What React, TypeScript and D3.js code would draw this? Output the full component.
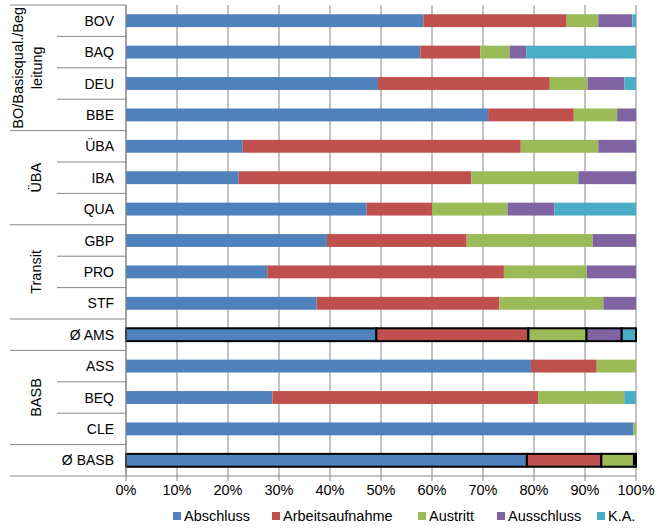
import React from "react";
import * as d3 from "d3";

const categories = ["BOV", "BAQ", "DEU", "BBE", "ÜBA", "IBA", "QUA", "GBP", "PRO", "STF", "Ø AMS", "ASS", "BEQ", "CLE", "Ø BASB"];
const seriesNames = ["Abschluss", "Arbeitsaufnahme", "Austritt", "Ausschluss", "K.A."];
const colors = ["#4F81BD", "#C0504D", "#9BBB59", "#8064A2", "#4BACC6"];

const abschluss = [58.3, 57.7, 49.4, 71.0, 22.9, 22.1, 47.2, 39.4, 27.7, 37.4, 49.1, 79.4, 28.7, 99.5, 78.6];
const arbeitsaufnahme = [28.1, 11.8, 33.7, 16.8, 54.5, 45.6, 12.8, 27.4, 46.4, 35.8, 29.8, 12.9, 52.1, 0, 14.6];
const austritt = [6.2, 5.7, 7.4, 8.5, 15.2, 21.0, 14.8, 24.7, 16.2, 20.4, 11.4, 7.7, 16.9, 0.5, 6.4];
const ausschluss = [6.7, 3.3, 7.2, 3.7, 7.4, 11.3, 9.2, 8.5, 9.7, 6.4, 6.9, 0, 0, 0, 0];
const ka = [0.7, 21.5, 2.3, 0, 0, 0, 16.0, 0, 0, 0, 2.8, 0, 2.3, 0, 0.4];

const averageRows = ["Ø AMS", "Ø BASB"];
const groupLabels = [
  { lines: ["BO/Basisqual./Beg", "leitung"], from: 0, to: 3 },
  { lines: ["ÜBA"], from: 4, to: 6 },
  { lines: ["Transit"], from: 7, to: 9 },
  { lines: [], from: 10, to: 10 },
  { lines: ["BASB"], from: 11, to: 13 },
  { lines: [], from: 14, to: 14 },
];
const xTicks = [0, 10, 20, 30, 40, 50, 60, 70, 80, 90, 100];

export default function App() {
  const W = 656, H = 529;
  const left = 126, right = 636, top = 5, bottom = 476;
  const font = "Liberation Sans, Arial, sans-serif";
  const grid = "#868686";

  const x = d3.scaleLinear().domain([0, 100]).range([left, right]);
  const y = d3.scaleBand<string>().domain(categories).range([top, bottom]).paddingInner(0.59).paddingOuter(0.295);
  const step = y.step();

  const table = categories.map((c, i) => ({
    cat: c,
    [seriesNames[0]]: abschluss[i],
    [seriesNames[1]]: arbeitsaufnahme[i],
    [seriesNames[2]]: austritt[i],
    [seriesNames[3]]: ausschluss[i],
    [seriesNames[4]]: ka[i],
  }));
  const stacked = d3.stack<any>().keys(seriesNames)(table);

  const boundary = (i: number) => top + i * step;
  const groupBoundaries = new Set<number>();
  groupLabels.forEach((g) => { groupBoundaries.add(g.from); groupBoundaries.add(g.to + 1); });

  const legendItems = [
    { x: 173, text: seriesNames[0] },
    { x: 272, text: seriesNames[1] },
    { x: 418, text: seriesNames[2] },
    { x: 497, text: seriesNames[3] },
    { x: 597, text: seriesNames[4] },
  ];

  return (
    <svg width={W} height={H} style={{ position: "absolute", left: 0, top: 0, background: "#fff" }} fontFamily={font}>
      <rect width={W} height={H} fill="#fff" />
      {xTicks.map((t) => (
        <line key={"g" + t} x1={x(t)} x2={x(t)} y1={top} y2={bottom} stroke={grid} strokeWidth={1} />
      ))}
      {stacked.map((s, si) =>
        s.map((d, i) => {
          const w = x(d[1]) - x(d[0]);
          if (w <= 0) return null;
          const avg = averageRows.includes(categories[i]);
          return (
            <rect
              key={si + "-" + i}
              x={x(d[0])}
              y={y(categories[i])}
              width={w}
              height={y.bandwidth()}
              fill={colors[si]}
              stroke={avg ? "#000" : "none"}
              strokeWidth={avg ? 2 : 0}
            />
          );
        })
      )}
      <line x1={left} x2={left} y1={top} y2={bottom} stroke={grid} strokeWidth={1} />
      {d3.range(categories.length + 1).map((i) => {
        const yy = boundary(i);
        const isGroup = groupBoundaries.has(i);
        return (
          <line key={"d" + i} x1={isGroup ? 10 : 57} x2={left} y1={yy} y2={yy} stroke={grid} strokeWidth={1} />
        );
      })}
      <line x1={left} x2={right} y1={bottom} y2={bottom} stroke={grid} strokeWidth={1} />
      {xTicks.map((t) => (
        <g key={"t" + t}>
          <line x1={x(t)} x2={x(t)} y1={bottom} y2={bottom + 5} stroke={grid} />
          <text x={x(t)} y={495} textAnchor="middle" fontSize={14.5} fill="#000">{t + "%"}</text>
        </g>
      ))}
      {categories.map((c) => (
        <text key={"c" + c} x={114} y={(y(c) as number) + y.bandwidth() / 2} dy="0.36em" textAnchor="end" fontSize={14} fill="#000">
          {c}
        </text>
      ))}
      {groupLabels.map((g, gi) => {
        if (!g.lines.length) return null;
        const cy = (boundary(g.from) + boundary(g.to + 1)) / 2;
        const n = g.lines.length;
        return g.lines.map((ln, li) => {
          const cx = n === 1 ? 36 : 18 + li * 19;
          return (
            <text key={"gl" + gi + li} transform={`translate(${cx},${cy}) rotate(-90)`} textAnchor="middle" dy="0.36em" fontSize={14.5} fill="#000">
              {ln}
            </text>
          );
        });
      })}
      {legendItems.map((l, i) => (
        <g key={"l" + i}>
          <rect x={l.x} y={512} width={8} height={8} fill={colors[i]} />
          <text x={l.x + 11} y={521} fontSize={14.5} fill="#000">{l.text}</text>
        </g>
      ))}
    </svg>
  );
}
